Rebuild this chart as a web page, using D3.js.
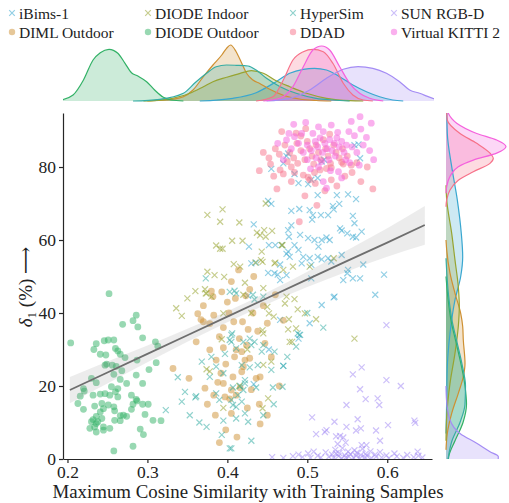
<!DOCTYPE html>
<html><head><meta charset="utf-8">
<script src="https://cdn.jsdelivr.net/npm/d3@7"></script>
<style>
body{margin:0;background:#fff}
svg{display:block}
svg text{font-family:"Liberation Serif","Times New Roman",Tinos,"DejaVu Serif","Noto Serif",Times,serif !important;fill:#222}
</style>
</head><body>
<svg id="chart" width="509" height="503"></svg>
<script>
// ---------- data ----------
const datasets = ["iBims-1","DIML Outdoor","DIODE Indoor","DIODE Outdoor","HyperSim","DDAD","SUN RGB-D","Virtual KITTI 2"];
const colors = ["#39a7d0","#ce9032","#97a431","#32b166","#36ada4","#f77189","#a48cf4","#f561dd"];
const markerType = ["x","o","x","o","x","o","x","o"];
const xTicks = [0.2,0.3,0.4,0.5,0.6];
const yTicks = [0,20,40,60,80];

const ptsIBims = [[0.564,86.2],[0.559,86.0],[0.470,81.0],[0.521,82.0],[0.518,81.5],[0.484,78.1],[0.513,77.0],[0.505,76.5],[0.489,75.6],[0.501,75.3],[0.476,83.7],[0.566,82.4],[0.474,83.0],[0.455,79.5],[0.513,72.3],[0.537,72.3],[0.551,72.5],[0.561,71.2],
[0.451,70.7],[0.455,69.9],[0.480,68.0],[0.490,68.5],[0.503,68.2],[0.532,69.3],[0.540,69.9],[0.533,68.4],[0.557,66.6],[0.559,64.6],[0.507,66.8],[0.517,66.8],[0.526,66.8],[0.506,65.6],[0.433,64.3],[0.480,64.0],[0.476,62.7],[0.477,60.9],[0.491,61.4],[0.489,57.3],[0.501,60.5],[0.509,60.0],[0.518,60.0],[0.524,60.7],[0.528,60.0],[0.541,63.2],[0.543,62.6],[0.550,61.8],[0.557,60.9],[0.561,60.7],[0.568,62.3],[0.427,58.2],[0.452,58.6],[0.460,58.6],[0.468,58.6],[0.484,58.6],[0.476,56.8],[0.474,56.2],[0.478,55.4],[0.514,58.2],[0.503,55.0],[0.513,55.4],[0.526,55.0],[0.530,54.1],[0.543,55.9],[0.495,55.4],[0.493,53.6],[0.505,53.2],[0.518,54.7],[0.430,53.6],[0.436,53.8],[0.466,53.3],[0.459,50.9],[0.474,50.4],[0.466,49.0],[0.451,51.0],[0.463,50.5],[0.551,51.8],[0.550,50.9],[0.545,49.0],[0.557,49.5],[0.566,49.5],[0.570,53.3],[0.505,49.5],[0.534,44.5],[0.426,44.7],[0.503,37.2],[0.518,42.2],[0.533,44.3],[0.466,38.1],[0.489,33.0],[0.490,34.0],[0.585,45.0],[0.596,50.5],[0.452,30.0],[0.470,25.5],[0.433,20.5]];

const ptsDIML = [[0.332,24.8],[0.352,22.1],[0.363,39.8],[0.367,38.2],[0.370,37.6],[0.378,37.1],[0.383,39.4],[0.382,44.5],[0.393,45.8],[0.405,48.6],[0.414,51.8],[0.400,43.0],[0.361,32.1],[0.378,29.9],[0.386,27.1],[0.372,19.4],[0.383,17.5],[0.395,20.7],[0.403,16.5],[0.405,12.5],[0.428,46.5],[0.423,44.7],[0.408,37.6],[0.419,37.6],[0.426,35.5],[0.450,37.2],[0.447,31.7],[0.424,31.2],[0.411,29.9],[0.418,29.4],[0.409,28.0],[0.422,27.1],[0.428,27.6],[0.420,25.3],[0.436,22.1],[0.441,22.5],[0.418,23.9],[0.407,22.5],[0.405,18.9],[0.411,17.5],[0.441,9.6],[0.390,33.5],[0.395,30.5],[0.398,26.0],[0.392,23.5],[0.388,21.0],[0.415,33.0],[0.432,40.0],[0.445,42.0],[0.460,45.0],[0.470,38.0],[0.455,28.0],[0.465,20.0],[0.440,15.0],[0.425,14.0],[0.398,8.0],[0.385,12.0],[0.375,15.0],[0.395,36.0],[0.402,40.0],[0.438,35.0],[0.410,44.0],[0.433,50.0],[0.380,46.0],[0.370,42.0],[0.397,17.0],[0.416,19.5],[0.430,19.0],[0.450,12.0],[0.412,6.0],[0.390,4.5]];

const ptsDIODEIndoor = [[0.375,66.9],[0.394,68.4],[0.391,65.0],[0.415,64.8],[0.406,59.8],[0.419,59.8],[0.386,58.5],[0.391,57.6],[0.394,57.6],[0.437,62.0],[0.441,61.3],[0.448,60.9],[0.456,62.5],[0.443,56.8],[0.442,54.5],[0.435,53.8],[0.460,53.8],[0.469,58.6],[0.408,53.4],[0.416,52.7],[0.375,51.3],[0.384,50.4],[0.396,49.9],[0.445,46.8],[0.422,48.3],[0.372,46.5],[0.373,45.4],[0.448,70.0],[0.446,62.7],[0.468,58.6],[0.444,54.0],[0.459,53.6],[0.482,52.7],[0.470,51.8],[0.503,52.7],[0.533,55.0],[0.474,44.5],[0.472,42.6],[0.484,43.8],[0.497,39.9],[0.511,38.3],[0.488,41.0],[0.477,38.3],[0.476,35.5],[0.486,35.8],[0.450,41.7],[0.452,39.9],[0.458,39.0],[0.444,35.3],[0.445,34.4],[0.559,33.0],[0.478,32.1],[0.481,32.1],[0.455,26.7],[0.445,25.8],[0.451,16.6],[0.444,13.9],[0.336,41.3],[0.343,39.2],[0.374,45.4],[0.380,44.5],[0.395,39.9],[0.374,24.6],[0.378,24.0],[0.393,32.8],[0.420,45.0],[0.430,40.0],[0.425,30.0],[0.415,20.0],[0.395,14.0],[0.360,46.0],[0.350,44.0]];

const ptsDIODEOutdoor = [[0.204,31.8],[0.252,45.3],[0.286,39.4],[0.282,37.9],[0.269,36.9],[0.288,36.2],[0.294,33.2],[0.310,32.1],[0.313,30.9],[0.246,32.4],[0.251,32.6],[0.258,32.6],[0.236,31.6],[0.233,30.0],[0.260,30.3],[0.263,29.6],[0.266,28.7],[0.272,27.8],[0.241,28.7],[0.248,28.5],[0.249,26.0],[0.247,25.7],[0.256,25.7],[0.261,25.4],[0.287,27.1],[0.302,24.5],[0.311,26.4],[0.268,24.2],[0.258,23.2],[0.266,21.8],[0.286,23.0],[0.294,20.7],[0.274,20.7],[0.263,19.3],[0.260,18.4],[0.255,19.8],[0.236,20.9],[0.230,22.1],[0.220,19.3],[0.221,18.6],[0.216,17.2],[0.232,17.5],[0.241,17.8],[0.247,17.9],[0.253,17.5],[0.263,17.0],[0.280,17.5],[0.286,16.3],[0.287,15.9],[0.282,15.0],[0.213,15.2],[0.220,13.6],[0.234,14.5],[0.243,15.2],[0.251,14.8],[0.258,14.3],[0.259,13.2],[0.266,11.9],[0.270,12.0],[0.274,11.7],[0.280,13.6],[0.294,15.0],[0.301,15.0],[0.297,12.2],[0.307,10.6],[0.317,10.5],[0.245,13.8],[0.241,12.9],[0.236,11.7],[0.232,10.8],[0.236,9.7],[0.230,10.2],[0.228,8.4],[0.236,7.4],[0.245,8.8],[0.253,8.4],[0.259,10.6],[0.266,10.5],[0.291,8.2],[0.295,6.7],[0.282,3.5],[0.258,2.2],[0.245,7.9],[0.238,10.2],[0.243,11.1],[0.234,8.8]];

const ptsHyperSim = [[0.338,22.4],[0.347,18.4],[0.360,16.9],[0.361,17.2],[0.343,15.7],[0.323,13.4],[0.374,8.8],[0.393,6.6],[0.405,2.9],[0.368,26.7],[0.380,28.0],[0.378,22.5],[0.386,25.3],[0.395,23.5],[0.397,28.8],[0.403,32.6],[0.406,34.4],[0.411,30.3],[0.418,25.7],[0.422,21.6],[0.390,16.2],[0.411,14.3],[0.420,18.9],[0.386,18.0],[0.403,45.8],[0.411,45.4],[0.432,45.0],[0.434,43.7],[0.445,44.5],[0.405,34.0],[0.405,32.1],[0.420,32.1],[0.428,33.0],[0.434,32.1],[0.430,31.2],[0.445,31.2],[0.443,29.4],[0.459,29.4],[0.488,34.4],[0.491,34.0],[0.486,30.8],[0.428,25.1],[0.438,25.7],[0.455,24.4],[0.470,25.5],[0.457,19.6],[0.469,19.8],[0.436,19.6],[0.422,20.7],[0.416,20.0],[0.407,19.6],[0.413,17.5],[0.405,16.2],[0.418,15.7],[0.407,14.8],[0.422,12.5],[0.426,10.2],[0.445,12.0],[0.411,11.1],[0.403,2.9],[0.373,49.5],[0.409,46.1],[0.353,12.0],[0.365,10.0],[0.395,10.5],[0.430,5.0],[0.458,15.0],[0.475,28.0],[0.500,40.0],[0.520,36.0]];

const ptsDDAD = [[0.468,89.7],[0.454,80.8],[0.466,79.2],[0.470,78.1],[0.480,80.0],[0.484,78.5],[0.488,81.0],[0.495,77.8],[0.503,76.5],[0.501,77.2],[0.509,78.5],[0.516,79.2],[0.524,79.6],[0.530,79.8],[0.547,77.5],[0.522,73.5],[0.537,74.8],[0.497,72.1],[0.567,76.0],[0.562,81.2],[0.543,81.3],[0.545,80.8],[0.452,82.5],[0.460,85.0],[0.465,83.5],[0.472,86.0],[0.478,84.0],[0.483,82.5],[0.487,86.5],[0.492,84.5],[0.497,82.0],[0.500,87.0],[0.503,85.0],[0.506,83.0],[0.508,80.8],[0.511,86.0],[0.514,84.0],[0.517,82.0],[0.520,87.5],[0.523,85.0],[0.526,83.0],[0.529,81.0],[0.533,86.0],[0.536,84.0],[0.540,82.5],[0.544,85.0],[0.550,83.0],[0.555,80.5],[0.492,88.5],[0.486,89.3],[0.475,81.5],[0.458,77.5],[0.480,76.0],[0.510,75.5],[0.530,76.5],[0.556,78.5],[0.575,80.0],[0.582,74.0],[0.512,69.5],[0.462,74.0],[0.445,84.0],[0.440,79.0],[0.498,90.5],[0.528,89.0],[0.490,65.0]];

const ptsSUN = [[0.599,36.7],[0.568,25.1],[0.557,23.2],[0.599,21.6],[0.617,20.0],[0.566,19.1],[0.573,16.4],[0.588,16.6],[0.590,14.8],[0.549,14.8],[0.506,11.4],[0.534,10.2],[0.549,8.8],[0.563,10.9],[0.567,8.4],[0.561,7.8],[0.524,7.9],[0.522,7.4],[0.511,6.8],[0.536,6.2],[0.541,6.3],[0.545,5.9],[0.601,9.3],[0.586,7.8],[0.591,5.0],[0.634,10.5],[0.635,9.9],[0.638,2.0],[0.538,4.1],[0.548,4.5],[0.508,2.0],[0.536,1.5],[0.568,3.8],[0.574,3.8],
[0.482,0.8],[0.489,1.2],[0.494,0.5],[0.501,1.5],[0.504,0.3],[0.513,0.9],[0.517,0.4],[0.523,1.8],[0.527,0.6],[0.531,1.2],[0.533,0.3],[0.535,2.5],[0.539,0.8],[0.540,1.6],[0.543,0.2],[0.544,3.0],[0.547,1.0],[0.548,0.4],[0.551,2.0],[0.552,0.7],[0.554,1.3],[0.558,0.3],[0.559,2.4],[0.561,0.9],[0.562,1.7],[0.566,0.2],[0.567,1.1],[0.569,2.8],[0.572,0.5],[0.573,1.4],[0.575,0.8],[0.579,2.1],[0.580,0.3],[0.585,1.2],[0.586,0.6],[0.591,1.9],[0.593,0.4],[0.599,1.0],[0.602,0.2],[0.609,1.5],[0.612,0.7],[0.620,0.3],[0.625,1.1],[0.633,0.5],[0.639,0.9],[0.644,0.4],[0.456,0.5],[0.470,0.3]];

const ptsVKITTI = [[0.566,93.8],[0.483,91.7],[0.498,92.2],[0.477,89.2],[0.463,86.5],[0.474,87.4],[0.484,88.3],[0.493,89.2],[0.507,89.2],[0.520,89.7],[0.538,89.5],[0.552,89.7],[0.559,88.6],[0.567,90.4],[0.574,88.1],[0.539,78.7],[0.524,74.2],[0.553,81.2],[0.500,86.0],[0.505,84.5],[0.510,87.0],[0.513,85.5],[0.516,88.0],[0.519,84.0],[0.522,86.5],[0.525,85.0],[0.528,87.5],[0.531,84.5],[0.534,86.5],[0.537,88.0],[0.540,85.5],[0.543,87.0],[0.546,84.0],[0.549,86.0],[0.511,82.5],[0.518,81.5],[0.527,82.0],[0.535,83.0],[0.495,84.0],[0.489,86.5],[0.480,85.0],[0.556,85.5],[0.562,84.0],[0.570,86.0],[0.578,84.5],[0.583,82.0],[0.565,80.5],[0.504,79.5],[0.514,80.0],[0.529,79.0],[0.548,82.0],[0.580,92.0],[0.555,92.5],[0.514,91.0],[0.530,91.5],[0.470,82.0],[0.543,77.0],[0.520,76.0],[0.500,82.0]];

// regression line and confidence band
const regX  = [0.203,0.25,0.30,0.35,0.40,0.45,0.50,0.55,0.60,0.647];
const regY  = [18.9,23.7,28.8,33.9,39.0,44.1,49.2,54.3,59.3,64.1];
const regLo = [15.3,20.7,26.5,32.1,37.5,42.5,47.1,51.4,55.4,58.7];
const regHi = [22.5,26.7,31.1,35.7,40.5,45.7,51.3,57.2,63.2,69.3];

// top marginal densities [x, relative density]
const topIBims = [[0.3655,0],[0.407,2.7],[0.436,8.3],[0.461,19.3],[0.478,27.7],[0.495,31.7],[0.509,32.7],[0.524,31],[0.5405,24.3],[0.557,16],[0.574,9.3],[0.5905,4.3],[0.607,1],[0.62,0]];
const topDIML = [[0.30,0],[0.324,1],[0.345,4.3],[0.357,11],[0.370,24.3],[0.382,36],[0.393,46],[0.399,52.7],[0.404,56],[0.411,49.3],[0.418,37.7],[0.424,27.7],[0.432,21],[0.440,17.7],[0.453,11.7],[0.470,5.7],[0.490,2],[0.511,0.5],[0.53,0]];
const topDIODEIndoor = [[0.295,0],[0.324,1.7],[0.353,7.7],[0.370,14.3],[0.382,19.3],[0.399,23.7],[0.416,27.7],[0.430,30.3],[0.445,27.7],[0.461,20.3],[0.478,14.3],[0.499,7.7],[0.524,2.7],[0.553,0.3],[0.57,0]];
const topDIODEOutdoor = [[0.19,0.5],[0.207,6],[0.220,21],[0.232,41],[0.241,48.3],[0.252,51.7],[0.263,47.7],[0.272,37.7],[0.280,28.3],[0.288,25],[0.299,19.3],[0.309,11],[0.320,3.7],[0.330,1],[0.345,0]];
const topHyperSim = [[0.282,0],[0.3155,1.7],[0.345,7.7],[0.361,19.3],[0.374,27.7],[0.386,34.3],[0.399,36],[0.411,35.7],[0.426,35],[0.436,31],[0.449,22.7],[0.466,14.3],[0.486,7.7],[0.511,2.7],[0.532,1],[0.553,0]];
const topDDAD = [[0.436,0],[0.457,4.3],[0.470,21],[0.482,41],[0.495,49.3],[0.507,51.7],[0.520,49.3],[0.532,37.7],[0.545,17.7],[0.557,6],[0.570,1],[0.582,0]];
const topSUN = [[0.449,0],[0.478,2.7],[0.503,11],[0.524,22.7],[0.545,31.7],[0.5635,34.3],[0.582,32.7],[0.599,27.7],[0.6155,19.3],[0.628,11],[0.6405,7.7],[0.657,2.7],[0.67,1]];
const topVKITTI = [[0.445,0],[0.4655,2.7],[0.482,14.3],[0.495,34.3],[0.507,51],[0.518,55],[0.528,51],[0.5405,34.3],[0.553,17.7],[0.5655,7.7],[0.578,2.7],[0.595,0]];

// right marginal densities [delta1, relative density]
const rightIBims = [[96,0.8],[89.2,1.3],[80.1,5.7],[71.0,11.3],[61.8,15.3],[55.4,16.7],[50.0,14.7],[43.6,9],[34.4,4],[25.3,1.3],[16.2,0.7],[7.0,0]];
const rightDIML = [[60,0],[57.3,0.7],[50.9,4],[45.4,9],[39.9,14.7],[36.3,16.7],[32.6,17.3],[26.2,19],[22.6,17.3],[18.0,12.3],[12.5,5.7],[7.0,1.3],[2.5,0]];
const rightDIODEIndoor = [[75,0],[71.0,0.7],[61.8,5.7],[54.5,9],[47.2,12.3],[41.7,13.3],[36.3,12.3],[29.0,9],[20.7,4],[11.6,0.7],[5,0]];
const rightDIODEOutdoor = [[50,0],[44,2],[38,5],[32,10],[26,15],[20,19],[15,20.5],[10,17],[5,9],[1,3],[-1,2]];
const rightHyperSim = [[55,0],[45,2.5],[38,6],[32,11],[26,16],[20,19.5],[15,19],[10,14],[5,6],[-1,1.5]];
const rightDDAD = [[96,0.5],[92.9,1.3],[89.2,14],[86.5,30.7],[83.8,44],[82.4,47.3],[81.0,44],[78.7,27.3],[76.4,12.3],[73.7,4],[71.0,0.7],[69.1,0]];
const rightSUN = [[20,0],[16.2,0.5],[10.7,4],[7.0,14],[4.3,30.7],[2.0,44],[0.7,52.3],[-1,52]];
const rightVKITTI = [[96,1.0],[94.7,2.3],[92.0,10.7],[89.2,30.7],[87.4,50.7],[85.6,60],[83.8,50.7],[81.9,27.3],[80.1,12.3],[77.4,4],[74.6,0.7],[72.8,0]];

const points = [ptsIBims, ptsDIML, ptsDIODEIndoor, ptsDIODEOutdoor, ptsHyperSim, ptsDDAD, ptsSUN, ptsVKITTI];
const topDens = [topIBims, topDIML, topDIODEIndoor, topDIODEOutdoor, topHyperSim, topDDAD, topSUN, topVKITTI];
const rightDens = [rightIBims, rightDIML, rightDIODEIndoor, rightDIODEOutdoor, rightHyperSim, rightDDAD, rightSUN, rightVKITTI];

// ---------- drawing ----------
const FONT = '"Liberation Serif","Times New Roman",Tinos,"DejaVu Serif","Noto Serif",Times,serif';
const svg = d3.select("#chart").attr("font-family", FONT);
const x = d3.scaleLinear().domain([0.1944, 0.656]).range([63, 432]);
const y = d3.scaleLinear().domain([0, 94.8]).range([459, 113]);
const topScale = d3.scaleLinear().domain([0, 59]).range([101, 42]);
const rightScale = d3.scaleLinear().domain([0, 63]).range([446, 509]);

const defs = svg.append("defs");
defs.append("clipPath").attr("id","mainClip").append("rect").attr("x",63).attr("y",113).attr("width",369).attr("height",346);
defs.append("clipPath").attr("id","topClip").append("rect").attr("x",63).attr("y",30).attr("width",371).attr("height",72);
defs.append("clipPath").attr("id","rightClip").append("rect").attr("x",445).attr("y",113).attr("width",70).attr("height",346);

// top marginal
const gTop = svg.append("g").attr("clip-path","url(#topClip)");
const topArea = d3.area().x(d=>x(d[0])).y0(topScale(0)).y1(d=>topScale(d[1])).curve(d3.curveMonotoneX);
const topLine = d3.line().x(d=>x(d[0])).y(d=>topScale(d[1])).curve(d3.curveMonotoneX);
topDens.forEach((dd,i)=>{
  gTop.append("path").attr("d",topArea(dd)).attr("fill",colors[i]).attr("fill-opacity",0.25);
});
topDens.forEach((dd,i)=>{
  gTop.append("path").attr("d",topLine(dd)).attr("fill","none").attr("stroke",colors[i]).attr("stroke-width",1.2);
});

// right marginal
const gRight = svg.append("g").attr("clip-path","url(#rightClip)");
const rArea = d3.area().y(d=>y(d[0])).x0(rightScale(0)).x1(d=>rightScale(d[1])).curve(d3.curveMonotoneY);
const rLine = d3.line().y(d=>y(d[0])).x(d=>rightScale(d[1])).curve(d3.curveMonotoneY);
rightDens.forEach((dd,i)=>{
  gRight.append("path").attr("d",rArea(dd)).attr("fill",colors[i]).attr("fill-opacity",0.25);
});
rightDens.forEach((dd,i)=>{
  gRight.append("path").attr("d",rLine(dd)).attr("fill","none").attr("stroke",colors[i]).attr("stroke-width",1.2);
});

// scatter
const gMain = svg.append("g").attr("clip-path","url(#mainClip)");
const xs = 3.0;
points.forEach((pts,i)=>{
  if (markerType[i]==="o") {
    gMain.append("g").selectAll("circle").data(pts).join("circle")
      .attr("cx",d=>x(d[0])).attr("cy",d=>y(d[1])).attr("r",3.4)
      .attr("fill",colors[i]).attr("fill-opacity",0.5);
  } else {
    gMain.append("g").selectAll("path").data(pts).join("path")
      .attr("d",d=>{const cx=x(d[0]),cy=y(d[1]);return `M${cx-xs},${cy-xs}L${cx+xs},${cy+xs}M${cx-xs},${cy+xs}L${cx+xs},${cy-xs}`;})
      .attr("stroke",colors[i]).attr("stroke-width",1.2).attr("stroke-opacity",0.55).attr("fill","none");
  }
});

// regression band + line
const band = regX.map((v,i)=>[v,regLo[i],regHi[i]]);
gMain.append("path").attr("d", d3.area().x(d=>x(d[0])).y0(d=>y(d[1])).y1(d=>y(d[2])).curve(d3.curveMonotoneX)(band))
  .attr("fill","#8a8a8a").attr("fill-opacity",0.16);
gMain.append("path").attr("d", d3.line().x(d=>x(d[0])).y(d=>y(d[1]))(regX.map((v,i)=>[v,regY[i]])))
  .attr("fill","none").attr("stroke","#6e6e6e").attr("stroke-width",1.8);

// axes
const xAxis = svg.append("g").attr("transform","translate(0,459)")
  .call(d3.axisBottom(x).tickValues(xTicks).tickSize(4).tickSizeOuter(0).tickPadding(3).tickFormat(d3.format(".1f")));
const yAxis = svg.append("g").attr("transform","translate(63,0)")
  .call(d3.axisLeft(y).tickValues(yTicks).tickSize(4).tickSizeOuter(0).tickPadding(3));
[xAxis,yAxis].forEach(a=>{
  a.attr("font-family", FONT);
  a.selectAll("path,line").attr("stroke","#262626").attr("stroke-width",1.2);
  a.selectAll("text").attr("font-family",FONT).attr("font-size",17.5).attr("fill","#222");
});

svg.append("text").attr("x",248).attr("y",498).attr("text-anchor","middle").attr("font-family",FONT)
  .attr("font-size",18.5).attr("textLength",391).attr("lengthAdjust","spacingAndGlyphs")
  .text("Maximum Cosine Similarity with Training Samples");

const yl = svg.append("text").attr("transform","translate(32,287) rotate(-90)").attr("text-anchor","middle")
  .attr("font-family",FONT).attr("font-size",19);
yl.append("tspan").attr("font-style","italic").text("δ");
yl.append("tspan").attr("font-size",13).attr("dy",4).text("1");
yl.append("tspan").attr("dy",-4).text(" (%) ⟶");

// legend (column-major, 4 columns, 2 rows)
const legX = [12,148,293,394];
const legY = [13,32];
datasets.forEach((name,i)=>{
  const col = Math.floor(i/2), row = i%2;
  const cx = legX[col], cy = legY[row];
  if (markerType[i]==="o") {
    svg.append("circle").attr("cx",cx).attr("cy",cy).attr("r",3.2).attr("fill",colors[i]).attr("fill-opacity",0.5);
  } else {
    const s=2.8;
    svg.append("path").attr("d",`M${cx-s},${cy-s}L${cx+s},${cy+s}M${cx-s},${cy+s}L${cx+s},${cy-s}`)
      .attr("stroke",colors[i]).attr("stroke-width",1.2).attr("stroke-opacity",0.55);
  }
  svg.append("text").attr("x",cx+7).attr("y",cy+5.5).attr("font-family",FONT).attr("font-size",15.5).text(name);
});
</script>
</body></html>
